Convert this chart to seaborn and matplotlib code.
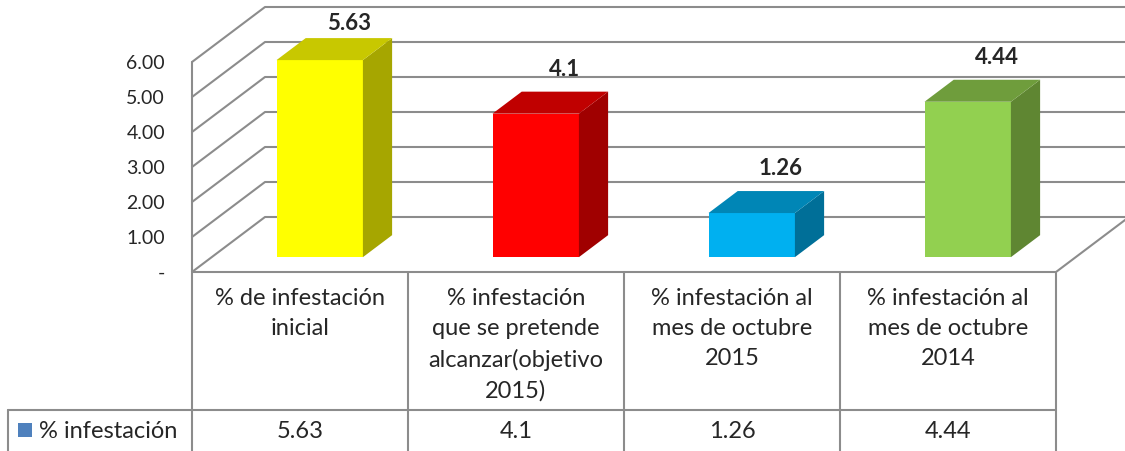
import matplotlib
matplotlib.use("Agg")
import matplotlib.pyplot as plt
import seaborn as sns
import pandas as pd
from matplotlib.transforms import Affine2D, IdentityTransform
from matplotlib.patches import Polygon, Rectangle
from matplotlib.lines import Line2D

# data
categories = ["% de infestación\ninicial",
              "% infestación\nque se pretende\nalcanzar(objetivo\n2015)",
              "% infestación al\nmes de octubre\n2015",
              "% infestación al\nmes de octubre\n2014"]
values = [5.63, 4.1, 1.26, 4.44]
value_labels = ["5.63", "4.1", "1.26", "4.44"]
y_ticks = [0, 1, 2, 3, 4, 5, 6]
y_tick_labels = ["-", "1.00", "2.00", "3.00", "4.00", "5.00", "6.00"]
series_name = "% infestación"

front_colors = ["#FFFF00", "#FF0000", "#00B0F0", "#92D050"]
top_colors = ["#C8C800", "#C00000", "#0086B6", "#6F9D3C"]
side_colors = ["#A6A600", "#A00000", "#006F98", "#5F8632"]
grid_color = "#8C8C8C"

sns.set_style("white")
plt.rcParams['font.family'] = ['Lato', 'DejaVu Sans']
FS_TABLE = 17
FS_TICK = 14
FS_LABEL = 16

W, H = 1125, 451
fig = plt.figure(figsize=(W / 100, H / 100), dpi=100)
ax = fig.add_axes([192 / W, 179 / H, 864 / W, 210 / H])
ax.patch.set_alpha(0)

df = pd.DataFrame({"cat": categories, "val": values})
sns.barplot(data=df, x="cat", y="val", hue="cat", palette=front_colors,
            width=0.4, saturation=1, legend=False, ax=ax, zorder=3)
ax.set_xlim(-0.5, 3.5)
ax.set_ylim(0, 6)
for s in ax.spines.values():
    s.set_visible(False)
ax.set_xlabel("")
ax.set_ylabel("")
ax.set_xticks([])
ax.set_yticks(y_ticks)
ax.set_yticklabels(y_tick_labels, fontsize=FS_TICK)
ax.tick_params(axis='y', length=0, pad=19.5)

# depth of the 3d box in pixels
DX, DY = 73, 55


def px(x, y, f=0.0):
    p = ax.transData.transform((x, y))
    return p[0] + DX * f, p[1] + DY * f


def line(pts, **kw):
    xs = [p[0] for p in pts]
    ys = [p[1] for p in pts]
    ax.add_line(Line2D(xs, ys, transform=IdentityTransform(), clip_on=False,
                       color=kw.pop("color", grid_color), lw=kw.pop("lw", 1.5), **kw))


# walls / gridlines
for v in y_ticks:
    line([px(-0.5, v), px(-0.5, v, 1), px(3.5, v, 1)], zorder=1)
line([px(-0.5, 0), px(-0.5, 6)], zorder=1)
line([px(-0.5, 0), px(3.5, 0), px(3.5, 0, 1)], zorder=1)

# 3d bars
f0, d = 0.27, 0.4
bars = sorted(ax.patches, key=lambda p: p.get_x())
for i, b in enumerate(bars):
    x0, w, h = b.get_x(), b.get_width(), b.get_height()
    b.set_transform(ax.transData + Affine2D().translate(DX * f0, DY * f0))
    b.set_clip_on(False)
    b.set_edgecolor("none")
    side = [px(x0 + w, 0, f0), px(x0 + w, h, f0), px(x0 + w, h, f0 + d), px(x0 + w, 0, f0 + d)]
    top = [px(x0, h, f0), px(x0 + w, h, f0), px(x0 + w, h, f0 + d), px(x0, h, f0 + d)]
    ax.add_patch(Polygon(side, closed=True, facecolor=side_colors[i], edgecolor="none",
                         transform=IdentityTransform(), clip_on=False, zorder=3))
    ax.add_patch(Polygon(top, closed=True, facecolor=top_colors[i], edgecolor="none",
                         transform=IdentityTransform(), clip_on=False, zorder=3))
    lx, ly = px(x0 + w / 2, h, f0 + d)
    # label kept inside the chart area like excel does
    ax.text(lx, min(ly + 12, H - 34), value_labels[i], transform=IdentityTransform(),
            ha="center", va="bottom", fontsize=FS_LABEL, fontweight="bold", clip_on=False)

# data table
row_y = H - 410
for k in range(5):
    x, _ = px(-0.5 + k, 0)
    line([(x, H - 273), (x, 0)], zorder=1)
line([(8, row_y), (px(3.5, 0)[0], row_y)], zorder=1)
line([(8, row_y), (8, 0)], zorder=1)

for i, c in enumerate(categories):
    x, _ = px(i, 0)
    ax.text(x, H - 288, c, transform=IdentityTransform(), ha="center", va="top",
            multialignment="center", fontsize=FS_TABLE, linespacing=1.54, clip_on=False)
    ax.text(x, 19, value_labels[i], transform=IdentityTransform(), ha="center",
            va="center", fontsize=FS_TABLE, clip_on=False)

ax.add_patch(Rectangle((18, 14), 14, 14, facecolor="#4F81BD", edgecolor="none",
                       transform=IdentityTransform(), clip_on=False))
ax.text(39, 20, series_name, transform=IdentityTransform(), ha="left", va="center",
        fontsize=FS_TABLE, clip_on=False)

fig.savefig("out.png", dpi=100)
